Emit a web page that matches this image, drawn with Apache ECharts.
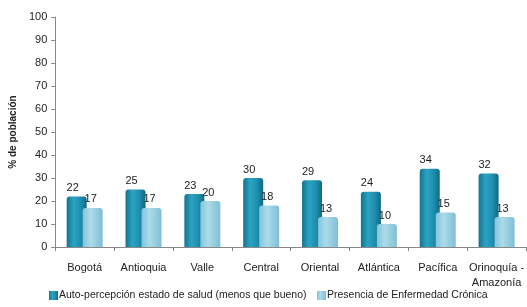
<!DOCTYPE html>
<html>
<head>
<meta charset="utf-8">
<script src="https://cdn.jsdelivr.net/npm/echarts@6/dist/echarts.min.js"></script>
<style>
  html, body { margin: 0; padding: 0; background: #fff; }
  #chart { width: 527px; height: 307px; }
</style>
</head>
<body>
<div id="chart"></div>
<script>
const regiones = ['Bogotá', 'Antioquia', 'Valle', 'Central', 'Oriental', 'Atlántica', 'Pacífica', 'Orinoquía -\nAmazonía'];
const autoPercepcion = [22, 25, 23, 30, 29, 24, 34, 32];
const enfermedadCronica = [17, 17, 20, 18, 13, 10, 15, 13];
const nombres = ['Auto-percepción estado de salud (menos que bueno)', 'Presencia de Enfermedad Crónica'];

const chart = echarts.init(document.getElementById('chart'));

// degradados para simular el relieve de las barras
const oscuro = new echarts.graphic.LinearGradient(0, 0, 1, 0, [
  { offset: 0, color: '#14738f' },
  { offset: 0.35, color: '#2ba3c2' },
  { offset: 0.7, color: '#1e8eae' },
  { offset: 1, color: '#106883' }
]);
const claro = new echarts.graphic.LinearGradient(0, 0, 1, 0, [
  { offset: 0, color: '#80c5da' },
  { offset: 0.4, color: '#acdbea' },
  { offset: 1, color: '#7ebfd4' }
]);

const etiqueta = {
  show: true,
  position: 'top',
  distance: 3,
  color: '#222',
  fontSize: 11,
  fontFamily: 'Liberation Sans'
};

const leyenda = (nombre, izq) => ({
  bottom: 1,
  left: izq,
  itemWidth: 9,
  itemHeight: 9,
  itemGap: 0,
  icon: 'rect',
  textStyle: { fontSize: 10.5, color: '#222', padding: [0, 0, 0, -4] },
  data: [nombre]
});

chart.setOption({
  animation: false,
  textStyle: { fontFamily: 'Liberation Sans' },
  grid: { left: 51, right: 1, top: 17, bottom: 60 },
  legend: [leyenda(nombres[0], 44), leyenda(nombres[1], 312)],
  xAxis: {
    type: 'category',
    data: regiones,
    axisLine: { lineStyle: { color: '#888' } },
    axisTick: { show: true, length: 4, lineStyle: { color: '#888' } },
    axisLabel: { color: '#222', fontSize: 11, margin: 13, interval: 0, lineHeight: 15 }
  },
  yAxis: {
    type: 'value',
    min: 0,
    max: 100,
    interval: 10,
    name: '% de población',
    nameLocation: 'middle',
    nameGap: 33,
    nameRotate: 90,
    nameTextStyle: { fontSize: 10, fontWeight: 'bold', color: '#222' },
    axisLine: { show: true, lineStyle: { color: '#888' } },
    axisTick: { show: true, length: 4, inside: false, lineStyle: { color: '#888' } },
    axisLabel: { color: '#222', fontSize: 11, margin: 8 },
    splitLine: { show: false }
  },
  series: [
    {
      name: nombres[0],
      type: 'bar',
      data: autoPercepcion,
      barWidth: 20,
      barGap: '-20%',
      itemStyle: { color: oscuro, borderRadius: [3, 3, 0, 0] },
      label: Object.assign({}, etiqueta, { offset: [-4, 0] })
    },
    {
      name: nombres[1],
      type: 'bar',
      data: enfermedadCronica,
      barWidth: 20,
      itemStyle: { color: claro, borderRadius: [3, 3, 0, 0] },
      label: Object.assign({}, etiqueta, { offset: [-2, 0] })
    }
  ]
});
</script>
</body>
</html>
